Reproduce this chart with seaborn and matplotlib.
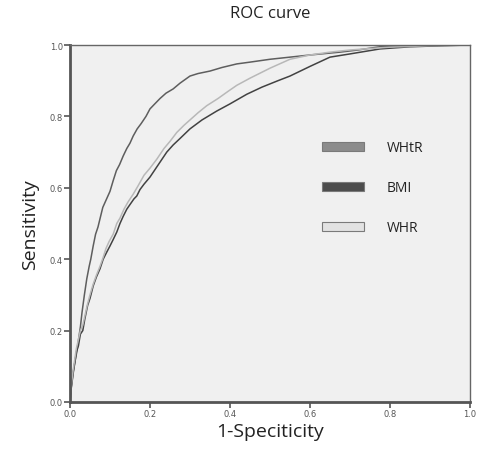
import pandas as pd
import matplotlib
matplotlib.use("Agg")
import matplotlib.pyplot as plt
from matplotlib.patches import Patch
import seaborn as sns

# ROC curve points
whtr_x = [0, 0.002, 0.004, 0.008, 0.012, 0.017, 0.022, 0.026, 0.030, 0.036, 0.042, 0.048, 0.052,
          0.058, 0.064, 0.070, 0.075, 0.082, 0.090, 0.100, 0.108, 0.116, 0.124, 0.133, 0.142, 0.150,
          0.158, 0.168, 0.178, 0.190, 0.200, 0.212, 0.225, 0.240, 0.258, 0.275, 0.290, 0.300, 0.320,
          0.350, 0.380, 0.417, 0.450, 0.500, 0.550, 0.600, 0.675, 0.720, 0.780, 0.850, 0.920, 1.0]
whtr_y = [0, 0.03, 0.045, 0.08, 0.11, 0.14, 0.18, 0.21, 0.25, 0.30, 0.345, 0.38, 0.40,
          0.437, 0.47, 0.49, 0.513, 0.545, 0.565, 0.59, 0.62, 0.648, 0.665, 0.689, 0.71, 0.725,
          0.745, 0.765, 0.78, 0.80, 0.821, 0.835, 0.85, 0.865, 0.877, 0.893, 0.905, 0.913, 0.92,
          0.927, 0.937, 0.947, 0.952, 0.96, 0.966, 0.972, 0.98, 0.986, 0.996, 0.998, 0.999, 1.0]

bmi_x = [0, 0.003, 0.008, 0.012, 0.016, 0.021, 0.026, 0.032, 0.037, 0.044, 0.050, 0.058, 0.066,
         0.075, 0.083, 0.092, 0.100, 0.108, 0.117, 0.125, 0.133, 0.142, 0.150, 0.160, 0.167, 0.175,
         0.185, 0.200, 0.215, 0.230, 0.242, 0.258, 0.275, 0.300, 0.330, 0.367, 0.400, 0.442, 0.480,
         0.520, 0.550, 0.600, 0.650, 0.700, 0.775, 0.850, 0.930, 1.0]
bmi_y = [0, 0.04, 0.084, 0.11, 0.14, 0.157, 0.19, 0.20, 0.232, 0.27, 0.29, 0.325, 0.35,
         0.373, 0.40, 0.42, 0.437, 0.455, 0.476, 0.50, 0.52, 0.54, 0.553, 0.569, 0.577, 0.595,
         0.61, 0.63, 0.655, 0.68, 0.70, 0.72, 0.738, 0.765, 0.79, 0.815, 0.835, 0.862, 0.882,
         0.90, 0.913, 0.94, 0.966, 0.975, 0.989, 0.995, 0.998, 1.0]

whr_x = [0, 0.003, 0.008, 0.012, 0.016, 0.021, 0.026, 0.032, 0.037, 0.044, 0.050, 0.058, 0.066,
         0.075, 0.083, 0.090, 0.098, 0.108, 0.117, 0.125, 0.135, 0.145, 0.158, 0.170, 0.185, 0.200,
         0.217, 0.235, 0.250, 0.267, 0.285, 0.300, 0.320, 0.342, 0.370, 0.395, 0.417, 0.450, 0.500,
         0.550, 0.600, 0.650, 0.700, 0.800, 0.900, 1.0]
whr_y = [0, 0.045, 0.09, 0.12, 0.15, 0.175, 0.20, 0.215, 0.24, 0.275, 0.30, 0.33, 0.355,
         0.38, 0.405, 0.43, 0.45, 0.47, 0.50, 0.515, 0.54, 0.56, 0.582, 0.605, 0.635, 0.655,
         0.68, 0.71, 0.73, 0.755, 0.775, 0.79, 0.81, 0.83, 0.85, 0.87, 0.887, 0.907, 0.935,
         0.96, 0.972, 0.98, 0.986, 0.994, 0.998, 1.0]

models = ["WHtR", "BMI", "WHR"]
ticks = [0.0, 0.2, 0.4, 0.6, 0.8, 1.0]
tick_labels = ["0.0", "0.2", "0.4", "0.6", "0.8", "1.0"]

df = pd.concat([
    pd.DataFrame({"fpr": whtr_x, "tpr": whtr_y, "model": "WHtR"}),
    pd.DataFrame({"fpr": bmi_x, "tpr": bmi_y, "model": "BMI"}),
    pd.DataFrame({"fpr": whr_x, "tpr": whr_y, "model": "WHR"}),
], ignore_index=True)

line_cols = {"WHtR": "#5e5e5e", "BMI": "#424242", "WHR": "#b8b8b8"}
patch_cols = {"WHtR": "#8c8c8c", "BMI": "#4c4c4c", "WHR": "#e2e2e2"}

sns.set_style("white")
plt.rcParams["font.family"] = ["Open Sans", "DejaVu Sans"]

fig = plt.figure(figsize=(4.81, 4.60), dpi=100)
ax = fig.add_axes([0.1455, 0.124, 0.8315, 0.776])
ax.set_facecolor("#f0f0f0")

sns.lineplot(data=df, x="fpr", y="tpr", hue="model", palette=line_cols,
             sort=False, estimator=None, linewidth=1.1, legend=False, ax=ax)

ax.set_xlim(0, 1)
ax.set_ylim(0, 1)
ax.set_xticks(ticks)
ax.set_yticks(ticks)
ax.set_xticklabels(tick_labels, fontsize=6, color="#555555", family="DejaVu Sans")
ax.set_yticklabels(tick_labels, fontsize=6, color="#555555", family="DejaVu Sans")
ax.tick_params(direction="out", length=4, width=1.2, color="#555555", pad=1,
               bottom=True, left=True)

for side in ["left", "bottom"]:
    ax.spines[side].set_linewidth(2)
    ax.spines[side].set_color("#555555")
for side in ["top", "right"]:
    ax.spines[side].set_linewidth(1)
    ax.spines[side].set_color("#666666")

ax.set_title("ROC curve", fontsize=12, color="#222222", pad=20)
ax.set_xlabel("1-Speciticity", fontsize=14, color="#222222", labelpad=3)
ax.set_ylabel("Sensitivity", fontsize=14, color="#222222", labelpad=8)

handles = [Patch(facecolor=patch_cols[m], edgecolor="#7a7a7a", linewidth=0.8) for m in models]
leg = ax.legend(handles, models, loc="center left", bbox_to_anchor=(0.6, 0.6),
                frameon=False, handlelength=3.0, handleheight=0.6,
                labelspacing=1.8, handletextpad=1.6, fontsize=10)
for t in leg.get_texts():
    t.set_color("#222222")

fig.savefig("out.png", dpi=100)
